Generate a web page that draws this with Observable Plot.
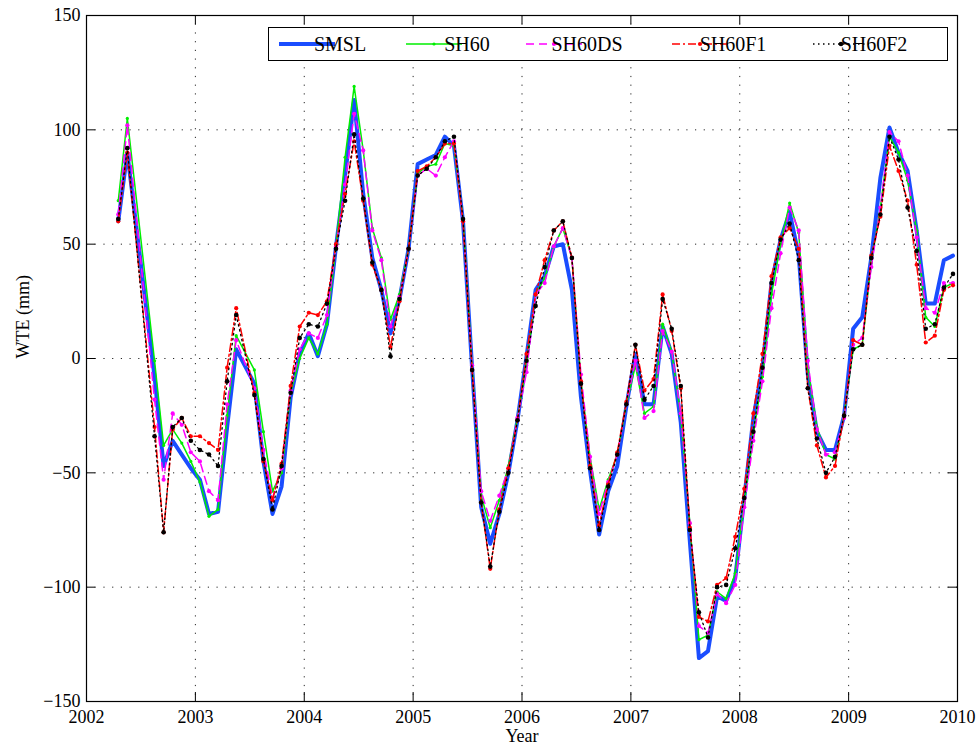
<!DOCTYPE html>
<html>
<head>
<meta charset="utf-8">
<script src="https://cdn.jsdelivr.net/npm/d3@7"></script>
<script src="https://cdn.jsdelivr.net/npm/@observablehq/plot@0.6"></script>
<style>
  body { margin: 0; background: #fff; }
  #chart { width: 977px; height: 749px; }
</style>
</head>
<body>
<div id="chart"></div>
<script>
// ---------- data ----------
const months = [
  "2002-04","2002-05","2002-08","2002-09","2002-10","2002-11","2002-12",
  "2003-01","2003-02","2003-03","2003-04","2003-05","2003-07","2003-08","2003-09","2003-10","2003-11","2003-12",
  "2004-01","2004-02","2004-03","2004-04","2004-05","2004-06","2004-07","2004-08","2004-09","2004-10","2004-11","2004-12",
  "2005-01","2005-02","2005-03","2005-04","2005-05","2005-06","2005-07","2005-08","2005-09","2005-10","2005-11","2005-12",
  "2006-01","2006-02","2006-03","2006-04","2006-05","2006-06","2006-07","2006-08","2006-09","2006-10","2006-11","2006-12",
  "2007-01","2007-02","2007-03","2007-04","2007-05","2007-06","2007-07","2007-08","2007-09","2007-10","2007-11","2007-12",
  "2008-01","2008-02","2008-03","2008-04","2008-05","2008-06","2008-07","2008-08","2008-09","2008-10","2008-11","2008-12",
  "2009-01","2009-02","2009-03","2009-04","2009-05","2009-06","2009-07","2009-08","2009-09","2009-10","2009-11","2009-12"
];

const SMSL = [
  60, 90, -8, -47, -36, -42, -48,
  -53, -68, -67, -30, 4, -11, -45, -68, -56, -17, 2,
  11, 1, 15, 49, 80, 113, 72, 44, 30, 11, 26, 48,
  85, 87, 89, 97, 93, 60, -4, -65, -81, -68, -50, -27,
  1, 30, 36, 49, 50, 30, -17, -49, -77, -58, -47, -21,
  2, -20, -20, 14, 2, -28, -80, -131, -128, -104, -106, -96,
  -61, -26, -4, 33, 52, 64, 45, -7, -32, -40, -40, -25,
  13, 18, 44, 79, 101, 90, 82, 56, 24, 24, 43, 45
];
const SH60 = [
  69, 105, -1, -38, -31, -37, -45,
  -54, -69, -66, -25, 10, -5, -32, -58, -50, -15, 0,
  9, 2, 15, 49, 88, 119, 91, 57, 44, 17, 28, 48,
  81, 84, 85, 94, 93, 61, -3, -60, -74, -62, -47, -26,
  -3, 28, 35, 49, 57, 44, -10, -43, -66, -53, -42, -20,
  -3, -24, -21, 15, 3, -25, -72, -123, -121, -102, -105, -94,
  -63, -33, -8, 28, 50, 68, 55, -4, -30, -42, -44, -25,
  4, 6, 42, 66, 97, 90, 78, 56, 18, 14, 31, 33
];
const SH60DS = [
  63, 102, -18, -53, -24, -29, -41,
  -45, -58, -62, -20, 8, -13, -40, -61, -48, -14, 4,
  11, 9, 19, 49, 76, 107, 91, 56, 43, 14, 27, 48,
  80, 83, 80, 88, 95, 60, -3, -58, -71, -60, -48, -26,
  -6, 28, 33, 49, 57, 44, -7, -43, -68, -54, -42, -20,
  -1, -26, -23, 12, 3, -24, -72, -117, -120, -103, -107, -99,
  -65, -36, -10, 22, 46, 66, 56, -1, -31, -42, -41, -26,
  6, 9, 40, 66, 99, 95, 80, 53, 22, 20, 33, 33
];
const SH60F1 = [
  60, 90, -30, -76, -31, -26, -34,
  -34, -37, -40, -4, 22, -15, -45, -62, -46, -12, 14,
  20, 19, 25, 50, 72, 95, 69, 41, 30, 5, 25, 48,
  82, 84, 88, 94, 94, 60, -5, -63, -92, -66, -48, -27,
  2, 28, 43, 56, 60, 44, -10, -47, -73, -55, -41, -19,
  6, -14, -9, 28, 12, -13, -74, -113, -115, -99, -96, -78,
  -57, -24, 2, 36, 53, 57, 48, -13, -38, -52, -47, -25,
  8, 6, 45, 62, 93, 82, 69, 41, 7, 10, 30, 32
];
const SH60F2 = [
  61, 92, -34, -76, -30, -26, -36,
  -40, -42, -47, -10, 19, -16, -44, -66, -47, -15, 9,
  15, 14, 24, 48, 69, 98, 70, 42, 30, 1, 26, 48,
  80, 83, 88, 95, 97, 61, -5, -63, -91, -67, -50, -27,
  -1, 23, 40, 56, 60, 44, -11, -48, -75, -56, -42, -20,
  6, -18, -12, 26, 13, -12, -75, -111, -122, -100, -99, -83,
  -61, -32, -4, 33, 52, 59, 43, -13, -35, -50, -43, -25,
  4, 6, 44, 63, 97, 87, 66, 47, 13, 15, 31, 37
];

const seriesNames = ["SMSL", "SH60", "SH60DS", "SH60F1", "SH60F2"];
const seriesValues = [SMSL, SH60, SH60DS, SH60F1, SH60F2];
const xTicks = [2002, 2003, 2004, 2005, 2006, 2007, 2008, 2009, 2010];
const yTicks = [-150, -100, -50, 0, 50, 100, 150];
const xLabel = "Year";
const yLabel = "WTE (mm)";

// ---------- styles ----------
const styles = {
  SMSL:   {color: "#1a4dff", width: 4,   dash: null,        r: 0},
  SH60:   {color: "#00ee00", width: 1.5, dash: null,        r: 1.6},
  SH60DS: {color: "#ff00ff", width: 1.5, dash: "8,5",       r: 2.1},
  SH60F1: {color: "#ff0000", width: 1.5, dash: "8,3,2,3",   r: 2.1},
  SH60F2: {color: "#000000", width: 1.3, dash: "1.5,3.5",   r: 2.3}
};

// ---------- table ----------
const toYear = s => { const [y, m] = s.split("-").map(Number); return y + (m - 0.5) / 12; };
const rows = [];
seriesNames.forEach((name, si) => {
  months.forEach((mo, i) => rows.push({series: name, t: toYear(mo), v: seriesValues[si][i]}));
});

const W = 977, H = 749;
const M = {left: 86, right: 20, top: 15, bottom: 48};
const tickPx = 9;
const yPerPx = (yTicks[yTicks.length - 1] - yTicks[0]) / (H - M.top - M.bottom);
const xPerPx = (xTicks[xTicks.length - 1] - xTicks[0]) / (W - M.left - M.right);
const x0 = xTicks[0], x1 = xTicks[xTicks.length - 1];
const y0 = yTicks[0], y1 = yTicks[yTicks.length - 1];

const marks = [
  Plot.ruleX(xTicks.slice(1, -1), {x: d => d, stroke: "#000", strokeWidth: 1, strokeDasharray: "1.2,7.5", strokeOpacity: 0.85}),
  Plot.ruleY(yTicks.slice(1, -1), {y: d => d, stroke: "#000", strokeWidth: 1, strokeDasharray: "1.2,7.5", strokeOpacity: 0.85})
];
seriesNames.forEach(name => {
  const s = styles[name];
  const data = rows.filter(r => r.series === name);
  marks.push(Plot.line(data, {x: "t", y: "v", stroke: s.color, strokeWidth: s.width,
    strokeDasharray: s.dash || undefined, strokeLinejoin: "round"}));
  if (s.r > 0) marks.push(Plot.dot(data, {x: "t", y: "v", r: s.r, fill: s.color, stroke: "none"}));
});
marks.push(
  Plot.frame({stroke: "#000", strokeWidth: 1.2}),
  // inward ticks on four sides
  Plot.ruleX(xTicks, {x: d => d, y1: y0, y2: y0 + tickPx * yPerPx, stroke: "#000"}),
  Plot.ruleX(xTicks, {x: d => d, y1: y1 - tickPx * yPerPx, y2: y1, stroke: "#000"}),
  Plot.ruleY(yTicks, {y: d => d, x1: x0, x2: x0 + tickPx * xPerPx, stroke: "#000"}),
  Plot.ruleY(yTicks, {y: d => d, x1: x1 - tickPx * xPerPx, x2: x1, stroke: "#000"}),
  Plot.axisX({ticks: xTicks, tickSize: 0, tickPadding: 9, tickFormat: d => String(d), label: null}),
  Plot.axisY({ticks: yTicks, tickSize: 0, tickPadding: 6, label: null}),
  Plot.text([yLabel], {frameAnchor: "left", dx: -63, rotate: -90, fontSize: 18}),
  Plot.text([xLabel], {frameAnchor: "bottom", dy: 40, fontSize: 18})
);

const chart = Plot.plot({
  width: W, height: H,
  marginLeft: M.left, marginRight: M.right, marginTop: M.top, marginBottom: M.bottom,
  x: {domain: [x0, x1]},
  y: {domain: [y0, y1]},
  style: {fontFamily: "Liberation Serif, Times New Roman, serif", fontSize: "18px", color: "#000", background: "#fff"},
  marks
});
document.getElementById("chart").appendChild(chart);

// ---------- legend (inside the plot, top right) ----------
const legendBox = {x: 268.5, y: 27.5, w: 679, h: 33};
const legendLayout = [
  {x1: 279, x2: 335, tx: 340},
  {x1: 406, x2: 462, tx: 467},
  {x1: 526, x2: 582, tx: 587},
  {x1: 672, x2: 728, tx: 733},
  {x1: 813, x2: 869, tx: 874}
];
const svg = d3.select(chart);
const lg = svg.append("g");
lg.append("rect").attr("x", legendBox.x).attr("y", legendBox.y)
  .attr("width", legendBox.w).attr("height", legendBox.h)
  .attr("fill", "#fff").attr("stroke", "#000").attr("stroke-width", 1);
const cy = legendBox.y + legendBox.h / 2;
seriesNames.forEach((name, i) => {
  const s = styles[name], L = legendLayout[i];
  lg.append("line").attr("x1", L.x1).attr("x2", L.x2).attr("y1", cy).attr("y2", cy)
    .attr("stroke", s.color).attr("stroke-width", s.width)
    .attr("stroke-dasharray", s.dash);
  if (s.r > 0) lg.append("circle").attr("cx", (L.x1 + L.x2) / 2).attr("cy", cy).attr("r", s.r).attr("fill", s.color);
  lg.append("text").attr("x", L.tx).attr("y", cy).attr("dy", "0.35em")
    .attr("font-size", 20).attr("fill", "#000").text(name);
});
</script>
</body>
</html>
